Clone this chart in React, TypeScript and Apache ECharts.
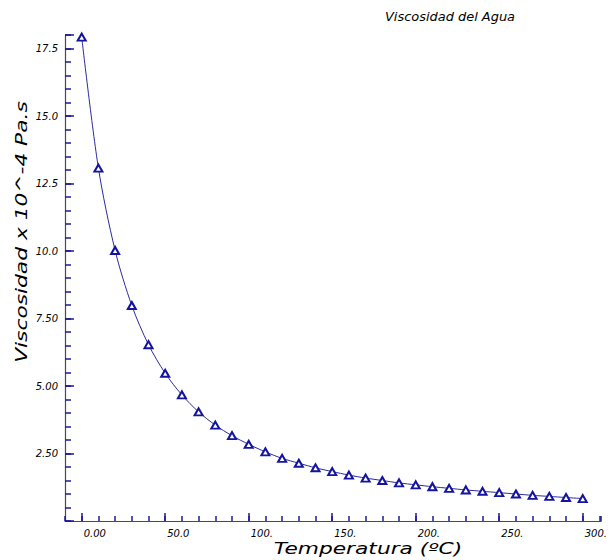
import { useEffect, useRef } from 'react';
import * as echarts from 'echarts';

// Temperatura (ºC) and viscosidad (x 10^-4 Pa.s)
const temperatures = [
  0, 10, 20, 30, 40, 50, 60, 70, 80, 90, 100, 110, 120, 130, 140, 150,
  160, 170, 180, 190, 200, 210, 220, 230, 240, 250, 260, 270, 280, 290, 300,
];
const viscosity = [
  17.92, 13.07, 10.02, 7.98, 6.53, 5.47, 4.67, 4.04, 3.55, 3.16, 2.84, 2.56,
  2.32, 2.14, 1.97, 1.83, 1.7, 1.59, 1.5, 1.41, 1.34, 1.27, 1.21, 1.15, 1.1,
  1.05, 1.0, 0.95, 0.91, 0.87, 0.83,
];

const xMajorTicks = [0, 50, 100, 150, 200, 250, 300];
const yMajorTicks = [2.5, 5, 7.5, 10, 12.5, 15, 17.5];

const chartTitle = 'Viscosidad del Agua';
const xAxisTitle = 'Temperatura (ºC)';
const yAxisTitle = 'Viscosidad x 10^-4 Pa.s';

const FONT = 'DejaVu Sans';
const AXIS_LINE = '#4a4a4a';
const TICK = '#1a1a96';

// three significant digits, trailing point for whole hundreds ("100.")
function fmt(v: number): string {
  const s = Number(v).toPrecision(3);
  return s.includes('.') ? s : s + '.';
}

function isMajor(v: number, list: number[]): boolean {
  return list.some((m) => Math.abs(m - v) < 1e-6);
}

const labelStyle = {
  color: '#000',
  fontSize: 10,
  fontStyle: 'italic' as const,
  fontFamily: FONT,
};

export default function App() {
  const ref = useRef<HTMLDivElement>(null);

  useEffect(() => {
    document.body.style.margin = '0';
    if (!ref.current) return;
    const chart = echarts.init(ref.current, undefined, { renderer: 'svg' });

    chart.setOption({
      animation: false,
      backgroundColor: '#ffffff',
      grid: { left: 65, right: 4, top: 35, bottom: 39 },
      xAxis: [
        {
          // minor ticks every 10 ºC, labels on the major values
          type: 'value',
          min: -10,
          max: 311,
          interval: 10,
          axisLine: { show: true, onZero: false, lineStyle: { color: AXIS_LINE, width: 1.2 } },
          axisTick: { show: true, inside: true, length: 5, lineStyle: { color: TICK, width: 1.5 } },
          splitLine: { show: false },
          axisLabel: {
            ...labelStyle,
            formatter: (v: number) => (isMajor(v, xMajorTicks) ? fmt(v) : ''),
            align: 'left',
            margin: 7,
            padding: [0, 0, 0, 2],
          },
        },
        {
          // longer major ticks
          type: 'value',
          min: -10,
          max: 311,
          position: 'bottom',
          axisLine: { show: true, onZero: false, lineStyle: { color: 'rgba(0,0,0,0)' } },
          axisTick: {
            show: true,
            inside: true,
            length: 8,
            customValues: xMajorTicks,
            lineStyle: { color: TICK, width: 1.5 },
          },
          axisLabel: { show: false },
          splitLine: { show: false },
        },
      ],
      yAxis: [
        {
          // minor ticks every 0.5, labels on the major values
          type: 'value',
          min: 0,
          max: 18,
          interval: 0.5,
          axisLine: { show: true, onZero: false, lineStyle: { color: AXIS_LINE, width: 1.2 } },
          axisTick: { show: true, inside: true, length: 6, lineStyle: { color: TICK, width: 1.5 } },
          splitLine: { show: false },
          axisLabel: {
            ...labelStyle,
            formatter: (v: number) => (isMajor(v, yMajorTicks) ? fmt(v) : ''),
            margin: 7,
          },
        },
        {
          // longer major ticks
          type: 'value',
          min: 0,
          max: 18,
          interval: 2.5,
          position: 'left',
          axisLine: { show: true, onZero: false, lineStyle: { color: 'rgba(0,0,0,0)' } },
          axisTick: {
            show: true,
            inside: true,
            length: 9,
            lineStyle: { color: TICK, width: 1.5 },
          },
          axisLabel: { show: false },
          splitLine: { show: false },
        },
      ],
      series: [
        {
          type: 'line',
          xAxisIndex: 0,
          yAxisIndex: 0,
          data: temperatures.map((t, i) => [t, viscosity[i]]),
          smooth: 0.3,
          symbol: 'emptyTriangle',
          symbolSize: [8, 7],
          showAllSymbol: true,
          lineStyle: { color: '#2a2aa0', width: 1 },
          itemStyle: { color: '#1414a0', borderWidth: 1.2 },
        },
      ],
      graphic: [
        {
          type: 'text', x: 450, y: 17, scaleX: 1.08,
          style: { text: chartTitle, fontSize: 12, fontStyle: 'italic', fontFamily: FONT, fill: '#000', align: 'center', verticalAlign: 'middle' },
        },
        {
          type: 'text', x: 368, y: 549, scaleX: 1.45,
          style: { text: xAxisTitle, fontSize: 15, fontStyle: 'italic', fontFamily: FONT, fill: '#000', align: 'center', verticalAlign: 'middle' },
        },
        {
          type: 'text', x: 22, y: 232, rotation: Math.PI / 2, scaleX: 1.45,
          style: { text: yAxisTitle, fontSize: 15, fontStyle: 'italic', fontFamily: FONT, fill: '#000', align: 'center', verticalAlign: 'middle' },
        },
      ],
    });

    return () => chart.dispose();
  }, []);

  return <div ref={ref} style={{ width: 610, height: 560 }} />;
}
